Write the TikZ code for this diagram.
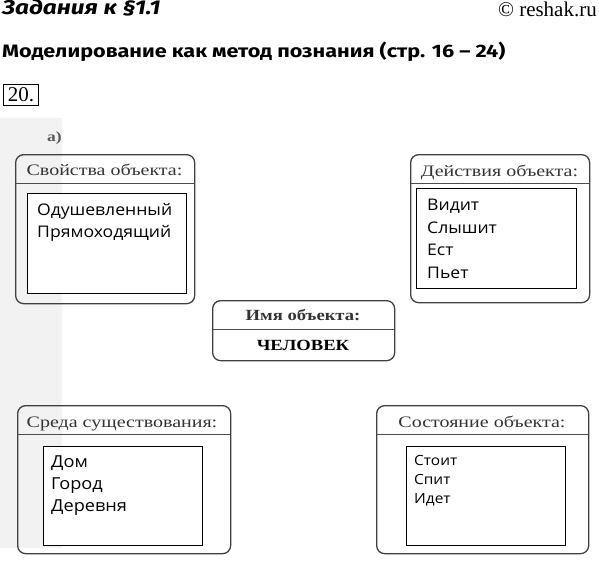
\documentclass[tikz,border=0pt]{standalone}
\usepackage{fontspec}
\setmainfont{Liberation Serif}
\newfontfamily\headsans[FakeStretch=1.2]{Fira Sans}
\newfontfamily\chapsans[FakeStretch=1.22]{Fira Sans}
\newfontfamily\bodysans[FakeStretch=1.1]{Open Sans}
\newfontfamily\boxserif[FakeStretch=1.25]{Liberation Serif}
\newfontfamily\nameserif[FakeStretch=1.2]{Liberation Serif}
\begin{document}
\begin{tikzpicture}[x=1pt,y=-1pt,
 outerbox/.style={draw=black!75, line width=1.3pt, rounded corners=8pt, inner sep=0pt, anchor=north west},
 innerbox/.style={draw=black, fill=white, line width=1.1pt, inner sep=0pt, anchor=north west},
 divider/.style={draw=black!70, line width=0.9pt},
 headtext/.style={font=\boxserif\fontsize{16}{18}\selectfont, text=black!80, anchor=base, inner sep=0pt},
 nametext/.style={font=\nameserif\bfseries\fontsize{15.5}{18}\selectfont, anchor=base, inner sep=0pt},
 itemtext/.style={font=\bodysans\fontsize{16}{18}\selectfont, anchor=base west, inner sep=0pt},
]
\useasboundingbox (0,0) rectangle (599,563);
\fill[black!5] (0,118) rectangle (62,548);

% page header
\node[font=\chapsans\bfseries\itshape\fontsize{20}{22}\selectfont, anchor=base west, inner sep=0pt] (chap) at (2,14) {Задания к §1.1};
\node[font=\fontsize{21}{22}\selectfont, anchor=base east, inner sep=0pt] (copy) at (597,16) {© reshak.ru};
\node[font=\headsans\bfseries\fontsize{18}{20}\selectfont, anchor=base west, inner sep=0pt] (title) at (2,57) {Моделирование как метод познания (стр. 16 – 24)};
\node[draw, line width=1pt, anchor=north west, minimum width=35pt, minimum height=21pt, inner sep=0pt, font=\fontsize{21}{22}\selectfont] (num) at (3,84) {20.};
\node[font=\boxserif\bfseries\fontsize{14}{16}\selectfont, text=black!65, anchor=base west, inner sep=0pt] (parta) at (47,141) {а)};

% box 1
\node[outerbox, minimum width=179pt, minimum height=149pt] (b1) at (15,154) {};
\draw[divider] (15,183) -- (194,183);
\node[headtext] (b1h) at (104.5,175) {Свойства объекта:};
\node[innerbox, minimum width=159pt, minimum height=100pt] (b1i) at (27,193) {};
\node[itemtext] (b1a) at (37,215) {Одушевленный};
\node[itemtext] (b1b) at (37,237) {Прямоходящий};

% box 2
\node[outerbox, minimum width=179pt, minimum height=148pt] (b2) at (410,154) {};
\draw[divider] (410,183) -- (589,183);
\node[headtext] (b2h) at (499.5,176) {Действия объекта:};
\node[innerbox, minimum width=160pt, minimum height=100pt] (b2i) at (416,188) {};
\node[itemtext] (b2a) at (427,210) {Видит};
\node[itemtext] (b2b) at (427,233) {Слышит};
\node[itemtext] (b2c) at (427,255) {Ест};
\node[itemtext] (b2d) at (427,278) {Пьет};

% centre box
\node[outerbox, minimum width=182pt, minimum height=60pt] (c) at (212,300) {};
\draw[divider] (212,329) -- (394,329);
\node[nametext, text=black!80] (ch) at (303,320) {Имя объекта:};
\node[nametext] (cn) at (303,350) {ЧЕЛОВЕК};

% box 3
\node[outerbox, minimum width=213pt, minimum height=148pt] (b3) at (17,405) {};
\draw[divider] (17,434) -- (230,434);
\node[headtext] (b3h) at (122,427) {Среда существования:};
\node[innerbox, minimum width=159pt, minimum height=99pt] (b3i) at (43,446) {};
\node[itemtext, font=\bodysans\fontsize{16.5}{18}\selectfont] (b3a) at (51,467) {Дом};
\node[itemtext, font=\bodysans\fontsize{16.5}{18}\selectfont] (b3b) at (51,489) {Город};
\node[itemtext, font=\bodysans\fontsize{16.5}{18}\selectfont] (b3c) at (51,511) {Деревня};

% box 4
\node[outerbox, minimum width=212pt, minimum height=148pt] (b4) at (376,405) {};
\draw[divider] (376,434) -- (588,434);
\node[headtext] (b4h) at (482,427) {Состояние объекта:};
\node[innerbox, minimum width=159pt, minimum height=99pt] (b4i) at (406,446) {};
\node[itemtext, font=\bodysans\fontsize{14}{16}\selectfont] (b4a) at (414,465) {Стоит};
\node[itemtext, font=\bodysans\fontsize{14}{16}\selectfont] (b4b) at (414,484) {Спит};
\node[itemtext, font=\bodysans\fontsize{14}{16}\selectfont] (b4c) at (414,503) {Идет};
\end{tikzpicture}
\end{document}
